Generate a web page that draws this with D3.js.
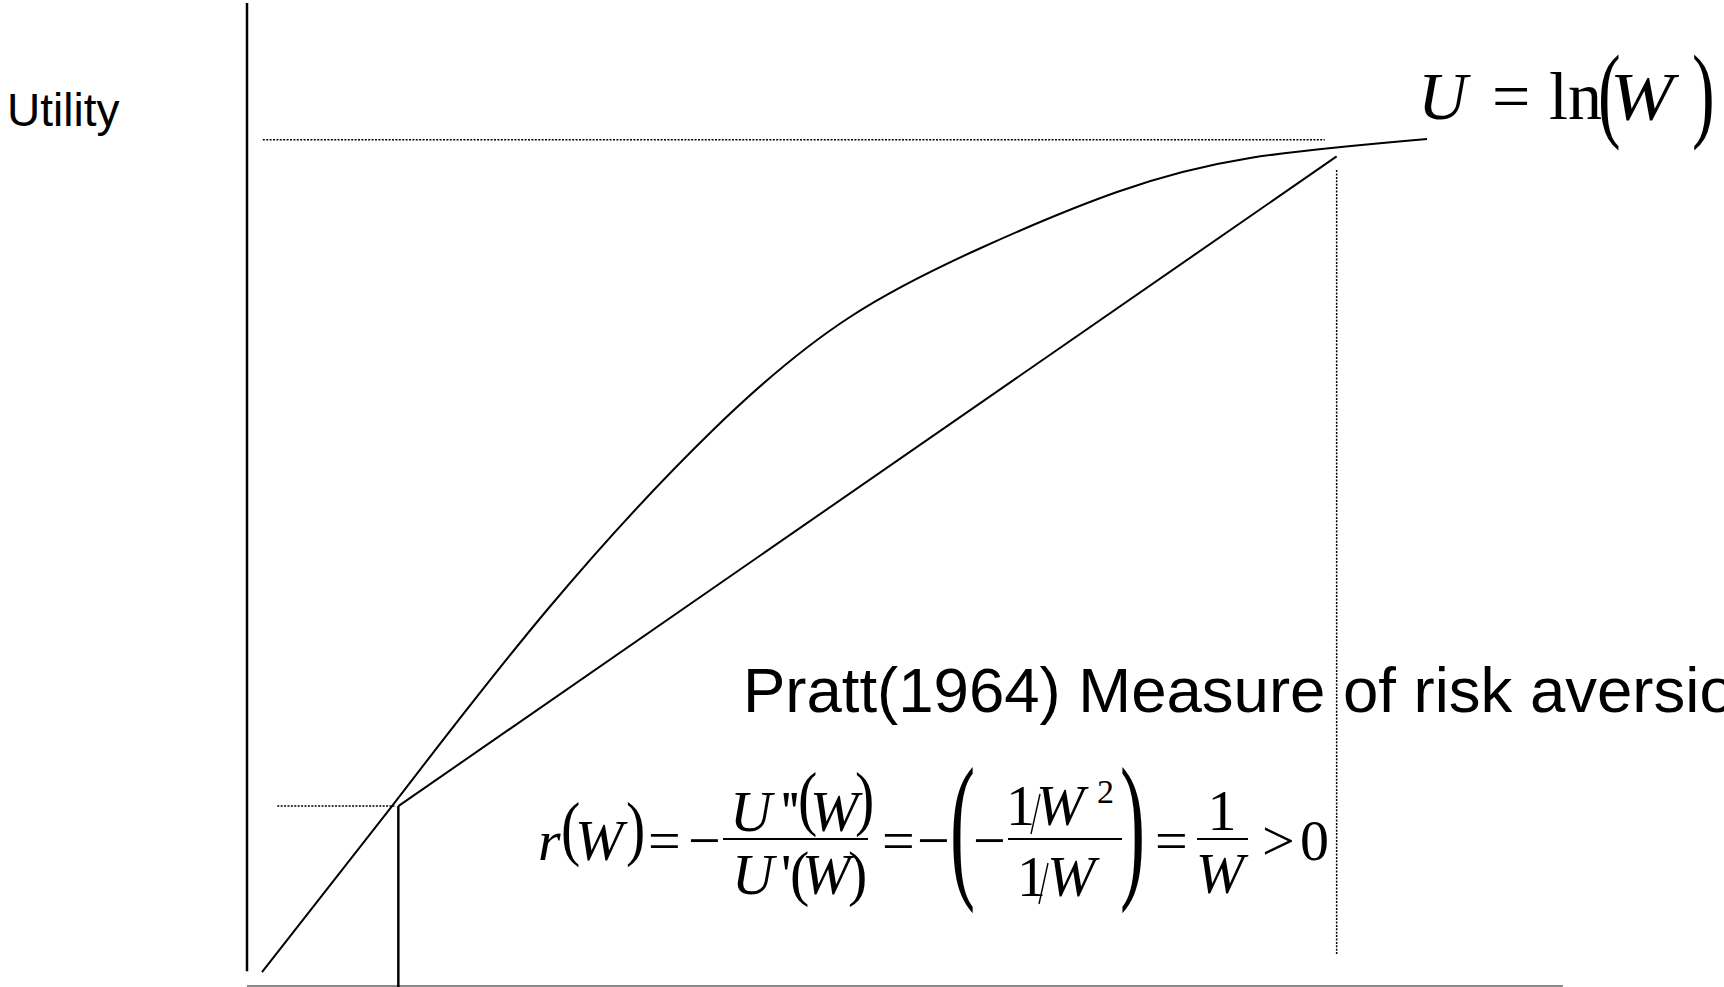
<!DOCTYPE html>
<html>
<head>
<meta charset="utf-8">
<script src="https://cdn.jsdelivr.net/npm/d3@7"></script>
<style>
  html, body { margin: 0; padding: 0; background: #fff; overflow: hidden; }
  svg { display: block; }
</style>
</head>
<body>
<svg id="chart" width="1724" height="987"></svg>
<script>
// Utility curve U = ln(W), sampled in schematic wealth / utility units
const wealth  = [1.14, 11.02, 22.80, 35.41, 45.82, 55.93, 66.11, 76.22, 89.67];
const utility = [1.42, 18.31, 38.25, 56.56, 68.06, 75.18, 80.77, 84.23, 86.17];

// Chord joining the utilities of the low and high wealth outcomes
const chordW = [11.5, 82.8];
const chordU = [18.3, 84.4];

// Reference lines: [w1, u1, w2, u2]
const lowUtilityGuide  = [2.3, 18.3, 11.2, 18.3];   // dotted
const lowWealthDrop    = [11.5, 18.3, 11.5, -0.1];  // solid
const highUtilityGuide = [1.2, 86.1, 81.9, 86.1];   // dotted
const highWealthDrop   = [82.8, 83.0, 82.8, 3.1];   // dotted

// Axis extents
const yAxisSpan = [1.5, 100];
const xAxisSpan = [0, 100];

const labels = {
  yTitle: "Utility",
  caption: "Pratt(1964) Measure of risk aversion"
};

const svg = d3.select("#chart");
const W = 1724, H = 987;
svg.append("rect").attr("width", W).attr("height", H).attr("fill", "#fff");

const x = d3.scaleLinear().domain([0, 100]).range([247, 1563]);
const y = d3.scaleLinear().domain([0, 100]).range([986, 3]);

// axes
svg.append("line")
  .attr("x1", x(0)).attr("x2", x(0))
  .attr("y1", y(yAxisSpan[0])).attr("y2", y(yAxisSpan[1]))
  .attr("stroke", "#000").attr("stroke-width", 2.5);
svg.append("line")
  .attr("x1", x(xAxisSpan[0])).attr("x2", x(xAxisSpan[1]))
  .attr("y1", y(0)).attr("y2", y(0))
  .attr("stroke", "#8a8a8a").attr("stroke-width", 2);

function seg(s, dotted, width) {
  const l = svg.append("line")
    .attr("x1", x(s[0])).attr("y1", y(s[1]))
    .attr("x2", x(s[2])).attr("y2", y(s[3]))
    .attr("stroke", "#000").attr("stroke-width", width);
  if (dotted) l.attr("stroke-dasharray", "2,1.4");
  return l;
}
seg(highUtilityGuide, true, 1.5);
seg(highWealthDrop, true, 1.5);
seg(lowUtilityGuide, true, 1.5);
seg(lowWealthDrop, false, 2.5);

// utility curve
const pts = wealth.map((w, i) => [w, utility[i]]);
svg.append("path")
  .datum(pts)
  .attr("fill", "none")
  .attr("stroke", "#000")
  .attr("stroke-width", 2)
  .attr("d", d3.line().x(d => x(d[0])).y(d => y(d[1])).curve(d3.curveNatural));

// chord
svg.append("line")
  .attr("x1", x(chordW[0])).attr("y1", y(chordU[0]))
  .attr("x2", x(chordW[1])).attr("y2", y(chordU[1]))
  .attr("stroke", "#000").attr("stroke-width", 2);

// plain text labels
const SANS = "'Liberation Sans', Arial, Helvetica, sans-serif";
const SERIF = "'Liberation Serif', 'Times New Roman', Times, serif";

svg.append("text").attr("x", 7).attr("y", 126)
  .attr("font-family", SANS).attr("font-size", 46).text(labels.yTitle);
svg.append("text").attr("x", 743).attr("y", 712)
  .attr("font-family", SANS).attr("font-size", 63.5).text(labels.caption);

// equation typesetting helpers
const eq = svg.append("g").attr("font-family", SERIF).attr("fill", "#000");
function glyph(str, gx, gy, size, italic, anchor, sx) {
  const t = eq.append("text").attr("font-size", size).text(str);
  if (sx) t.attr("transform", `translate(${gx},${gy}) scale(${sx},1)`);
  else t.attr("x", gx).attr("y", gy);
  if (italic) t.attr("font-style", "italic");
  if (anchor) t.attr("text-anchor", anchor);
  return t;
}
// stretched bracket spanning [top, bottom]
function paren(ch, gx, top, bottom, size, sx) {
  const c = (top + bottom) / 2;
  const k = (bottom - top) / (0.853 * size);
  eq.append("text")
    .attr("transform", `translate(${gx},${c}) scale(${sx || 1},${k})`)
    .attr("y", 0.25 * size)
    .attr("font-size", size).text(ch);
}
function bar(x1, x2, by) {
  eq.append("line").attr("x1", x1).attr("x2", x2).attr("y1", by).attr("y2", by)
    .attr("stroke", "#000").attr("stroke-width", 2);
}
// thin solidus of a built-up 1/W
function slash(xTop, yTop, xBot, yBot) {
  eq.append("line").attr("x1", xTop).attr("y1", yTop).attr("x2", xBot).attr("y2", yBot)
    .attr("stroke", "#000").attr("stroke-width", 1.4);
}

// U = ln(W)
const F1 = 68, B1 = 119;
glyph("U", 1418, B1, F1, true);
glyph("=", 1492, B1, F1);
glyph("ln", 1549, B1, F1);
paren("(", 1598, 57, 147, F1);
glyph("W", 1610, B1, F1, true, null, 1.12);
paren(")", 1692, 57, 147, F1);

// r(W) = -U''(W)/U'(W) = -(-(1/W^2)/(1/W)) = 1/W > 0
const F = 58, B = 860;
glyph("r", 538, B, F, true);
paren("(", 561, 803, 865, F);
glyph("W", 575, B, F, true);
paren(")", 626, 803, 865, F);
glyph("=", 648, B, F);
glyph("\u2212", 688, B, F);

bar(723, 868, 839);
glyph("U", 730, 831, F, true);
glyph("'", 781, 831, F);
glyph("'", 789, 831, F);
paren("(", 798, 773, 835, F);
glyph("W", 810, 831, F, true);
paren(")", 855, 773, 835, F);

glyph("U", 732, 894, F, true);
glyph("'", 781, 894, F);
paren("(", 790, 853, 905, F);
glyph("W", 802, 894, F, true);
paren(")", 848, 853, 905, F);

glyph("=", 882, B, F);
glyph("\u2212", 917, B, F);
paren("(", 950, 770, 907, F, 1.3);
glyph("\u2212", 973, B, F);

bar(1008, 1122, 839);
glyph("1", 1006, 825, F);
slash(1040, 794, 1031, 834);
glyph("W", 1036, 825, F, true);
glyph("2", 1097, 803, 34);

glyph("1", 1017, 896, F);
slash(1048, 863, 1039, 904);
glyph("W", 1047, 896, F, true);
paren(")", 1120, 770, 907, F, 1.3);

glyph("=", 1155, B, F);
bar(1197, 1248, 839);
glyph("1", 1222, 830, F, false, "middle");
glyph("W", 1220, 893, F, true, "middle");
glyph(">", 1262, B, F);
glyph("0", 1300, B, F);
</script>
</body>
</html>
